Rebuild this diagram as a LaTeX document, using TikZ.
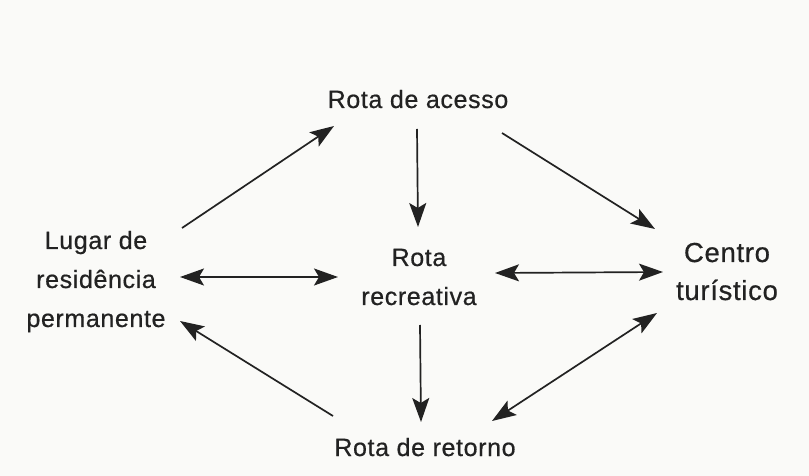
\documentclass[tikz,border=0pt]{standalone}
\usepackage{fontspec}
\setmainfont{Liberation Sans}[LetterSpace=2.5,FakeBold=0.6]
\usetikzlibrary{arrows.meta}
\definecolor{ink}{HTML}{222222}
\definecolor{paper}{HTML}{FAFAF8}
\begin{document}
\begin{tikzpicture}[x=1bp,y=-1bp,
  lbl/.style={font=\fontsize{25bp}{39bp}\selectfont, text=ink, align=center, inner sep=0pt, anchor=base},
  big/.style={font=\fontsize{27.5bp}{38bp}\selectfont, text=ink, align=center, inner sep=0pt, anchor=base},
  conn/.style={draw=ink, line width=1.7bp, -{Stealth[length=24bp,width=17bp,inset=5bp]}},
  dconn/.style={draw=ink, line width=1.7bp, {Stealth[length=24bp,width=17bp,inset=5bp]}-{Stealth[length=24bp,width=17bp,inset=5bp]}}]
\fill[paper] (0,0) rectangle (809,476);
\useasboundingbox (0,0) rectangle (809,476);
\node[lbl] (acc) at (418,108) {Rota de acesso};
\node[lbl] (lug) at (96,327) {Lugar de\\residência\\permanente};
\node[lbl] (rec) at (419,305) {Rota\\recreativa};
\node[big] (cen) at (727,300) {Centro\\turístico};
\node[lbl] (ret) at (425,456) {Rota de retorno};
% connectors
\draw[conn] ([shift={(86,-99)}]lug.base) -- ([shift={(-84,18)}]acc.base);
\draw[conn] ([shift={(-1,21)}]acc.base) -- ([shift={(-1,-78)}]rec.base);
\draw[conn] ([shift={(84,25)}]acc.base) -- ([shift={(-72,-71)}]cen.base);
\draw[dconn] ([shift={(84,-50)}]lug.base) -- ([shift={(-81,-28)}]rec.base);
\draw[dconn] ([shift={(76,-32)}]rec.base) -- ([shift={(-64,-28)}]cen.base);
\draw[conn] ([shift={(1,20)}]rec.base) -- ([shift={(-4,-34)}]ret.base);
\draw[conn] ([shift={(-92,-40)}]ret.base) -- ([shift={(84,-6)}]lug.base);
\draw[dconn] ([shift={(67,-35)}]ret.base) -- ([shift={(-70,13)}]cen.base);
\end{tikzpicture}
\end{document}
